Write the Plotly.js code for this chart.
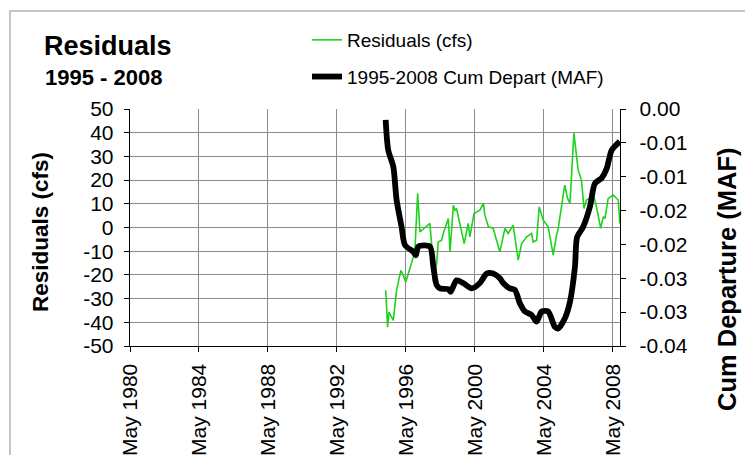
<!DOCTYPE html>
<html>
<head>
<meta charset="utf-8">
<script src="https://cdn.plot.ly/plotly-3.0.1.min.js"></script>
<style>html,body{margin:0;padding:0;background:#fff;}#chart{width:745px;height:455px;}</style>
</head>
<body>
<div id="chart"></div>
<script>
// Residuals (cfs) — left axis
const resDates = ['1995-02-28','1995-04-08','1995-05-07','1995-08-07','1995-10-15','1996-01-15','1996-03-05','1996-04-26','1996-06-20','1996-08-28','1996-10-04','1996-11-10','1997-01-04','1997-02-21','1997-08-17','1997-09-20','1997-10-26','1997-12-02','1998-02-10','1998-03-16','1998-05-25','1998-07-01','1998-10-15','1998-11-21','1999-01-29','1999-03-05','1999-04-08','1999-06-16','1999-09-16','1999-12-09','2000-01-15','2000-04-11','2000-08-14','2000-10-26','2000-11-28','2001-02-10','2001-05-21','2001-10-11','2002-01-26','2002-04-04','2002-07-19','2002-11-03','2003-01-15','2003-04-26','2003-08-14','2003-09-16','2003-11-28','2004-01-22','2004-04-15','2004-07-30','2004-11-14','2005-01-22','2005-02-28','2005-05-07','2005-07-15','2005-09-13','2005-11-03','2006-01-26','2006-04-26','2006-07-05','2006-08-28','2006-10-19','2006-12-27','2007-03-09','2007-05-18','2007-08-17','2007-10-08','2007-11-14','2008-01-22','2008-05-07','2008-08-21','2008-09-25'];
const resValues = [-26.5,-42.1,-35.7,-39.2,-26.5,-18.1,-20.2,-23.0,-19.5,-15.2,-12.4,-8.2,14.4,-1.9,1.0,1.7,-6.8,-23.0,-15.2,-6.1,-5.4,-2.5,3.8,-10.3,9.4,7.3,8.0,1.7,-6.8,1.7,-4.0,5.9,7.3,10.2,5.2,0.3,-0.3,-10.3,-0.4,-2.5,1.0,-13.8,-6.8,-4.0,-2.5,-6.1,-5.4,8.7,3.1,0.3,-11.7,-3.3,-0.4,8.7,17.9,12.3,10.2,39.8,24.2,20.0,8.0,11.6,12.3,14.4,8.7,-0.4,4.5,3.8,12.3,13.7,11.6,1.7];

// 1995-2008 Cumulative departure (MAF) — right axis
const cumDates = ['1995-02-26','1995-04-22','1995-08-07','1995-10-15','1996-01-29','1996-04-11','1996-10-04','1996-11-25','1997-01-19','1997-09-20','1997-12-02','1998-02-10','1998-04-19','1998-10-15','1998-12-02','1999-04-08','1999-08-25','2000-02-21','2000-08-14','2001-01-04','2001-05-21','2001-10-11','2001-12-20','2002-05-10','2002-08-25','2002-12-09','2003-03-23','2003-08-14','2003-11-28','2004-03-13','2004-07-30','2004-12-20','2005-02-28','2005-07-19','2005-11-03','2006-02-17','2006-04-04','2006-08-10','2007-01-01','2007-04-15','2007-09-05','2007-12-20','2008-04-04','2008-09-25'];
const cumValues = [-0.0016,-0.0061,-0.0085,-0.0134,-0.0174,-0.0201,-0.0211,-0.0216,-0.0203,-0.0203,-0.0233,-0.0260,-0.0265,-0.0266,-0.0270,-0.0253,-0.0257,-0.0265,-0.0257,-0.0243,-0.0243,-0.0250,-0.0257,-0.0265,-0.0267,-0.0287,-0.0299,-0.0304,-0.0314,-0.0299,-0.0299,-0.0322,-0.0324,-0.0309,-0.0285,-0.0233,-0.0189,-0.0174,-0.0144,-0.0110,-0.0102,-0.0088,-0.0061,-0.0048];

// Axis ticks and their printed labels
const leftTickVals = [50,40,30,20,10,0,-10,-20,-30,-40,-50];
const leftTickText = ['50','40','30','20','10','0','-10','-20','-30','-40','-50'];
const rightTickVals = [0,-0.005,-0.01,-0.015,-0.02,-0.025,-0.03,-0.035];
const rightTickText = ['0.00','-0.01','-0.01','-0.02','-0.02','-0.03','-0.03','-0.04'];

const FONT = 'Liberation Sans, Arial, sans-serif';
// plot area in px: x 130..620, y 109..346
const px = x => (x - 130) / 490;
const py = y => (346 - y) / 237;

const traces = [
  {
    x: resDates, y: resValues, type: 'scatter', mode: 'lines',
    name: 'Residuals (cfs)', legendgroup: 'a',
    line: {color: '#1ed21e', width: 1.6}, yaxis: 'y'
  },
  {
    x: cumDates, y: cumValues, type: 'scatter', mode: 'lines',
    name: '1995-2008 Cum Depart (MAF)', legendgroup: 'b',
    line: {color: '#000000', width: 5.8, shape: 'spline', smoothing: 0.7}, yaxis: 'y2'
  }
];

const layout = {
  width: 745, height: 455,
  margin: {l: 130, r: 125, t: 109, b: 109, pad: 0, autoexpand: false},
  paper_bgcolor: '#ffffff', plot_bgcolor: '#ffffff',
  font: {family: FONT, color: '#000', size: 21},
  title: {
    text: '<b>Residuals</b>', font: {family: FONT, size: 27, color: '#000'},
    xref: 'container', yref: 'container', x: 44/745, xanchor: 'left',
    y: 1 - 46/455, yanchor: 'middle', automargin: false
  },
  annotations: [
    {
      text: '<b>1995 - 2008</b>', xref: 'paper', yref: 'paper',
      x: px(43), xanchor: 'left', y: py(77), yanchor: 'middle',
      showarrow: false, font: {family: FONT, size: 22, color: '#000'}
    },
    {
      text: '<b>Residuals (cfs)</b>', xref: 'paper', yref: 'paper',
      x: px(40), xanchor: 'center', y: py(232), yanchor: 'middle', textangle: -90,
      showarrow: false, font: {family: FONT, size: 22.5, color: '#000'}
    },
    {
      text: '<b>Cum Departure (MAF)</b>', xref: 'paper', yref: 'paper',
      x: px(727), xanchor: 'center', y: py(279), yanchor: 'middle', textangle: -90,
      showarrow: false, font: {family: FONT, size: 25.5, color: '#000'}
    }
  ],
  showlegend: true,
  legend: {
    xref: 'container', yref: 'container',
    x: 307/745, xanchor: 'left', y: 1 - 21/455, yanchor: 'top',
    bgcolor: 'rgba(0,0,0,0)', font: {family: FONT, size: 19, color: '#000'},
    traceorder: 'grouped', tracegroupgap: 9
  },
  xaxis: {
    type: 'date', range: ['1980-05-01', '2008-09-28'], automargin: false,
    tick0: '1980-05-01', dtick: 'M48', tickformat: '%b %Y', tickangle: -90,
    showgrid: true, gridcolor: '#8c8c8c', gridwidth: 1,
    showline: true, linecolor: '#000', linewidth: 1.3,
    ticks: 'outside', ticklen: 5, tickcolor: '#000', zeroline: false,
    ticklabelstandoff: 3,
    tickfont: {family: FONT, size: 21, color: '#000'}
  },
  yaxis: {
    range: [-50, 50], tickmode: 'array', tickvals: leftTickVals, ticktext: leftTickText,
    automargin: false,
    showgrid: true, gridcolor: '#8c8c8c', gridwidth: 1, zeroline: false,
    showline: true, linecolor: '#000', linewidth: 1.3,
    ticks: 'outside', ticklen: 5, tickcolor: '#000', ticklabelstandoff: 6,
    tickfont: {family: FONT, size: 21, color: '#000'}
  },
  yaxis2: {
    overlaying: 'y', side: 'right', range: [-0.035, 0], automargin: false,
    tickmode: 'array', tickvals: rightTickVals, ticktext: rightTickText,
    showgrid: false, zeroline: false,
    showline: true, linecolor: '#000', linewidth: 1.3,
    ticks: 'outside', ticklen: 5, tickcolor: '#000', ticklabelstandoff: 9,
    tickfont: {family: FONT, size: 21, color: '#000'}
  },
  shapes: [{
    type: 'rect', xref: 'paper', yref: 'paper',
    x0: px(10), x1: 1.6, y0: -1, y1: py(11),
    line: {color: '#b4b4b4', width: 1.5}, fillcolor: 'rgba(0,0,0,0)', layer: 'below'
  }]
};

Plotly.newPlot('chart', traces, layout, {displayModeBar: false, staticPlot: true});
</script>
</body>
</html>
